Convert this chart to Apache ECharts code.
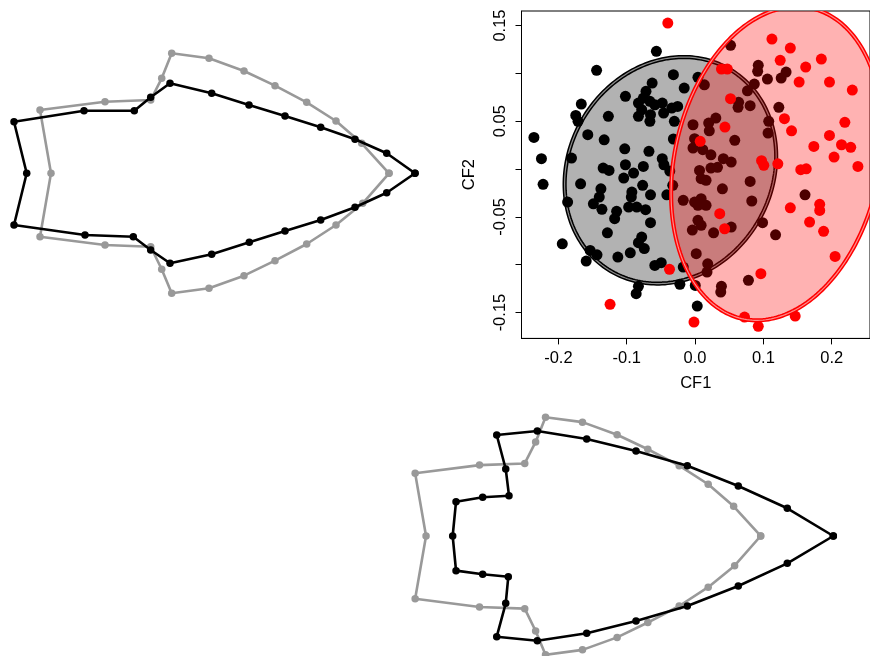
<!DOCTYPE html>
<html><head><meta charset="utf-8">
<script src="https://cdn.jsdelivr.net/npm/echarts@6/dist/echarts.min.js"></script>
<style>html,body{margin:0;padding:0;background:#fff;}#chart{width:870px;height:656px;}</style>
</head><body><div id="chart"></div>
<script>
// ---------------- DATA ----------------
// Consensus (mean) outline, 24 landmarks, shape units
const consensusX = [0.174, 0.1467, 0.121, 0.0917, 0.060, 0.029, -0.006, -0.0433, -0.0533, -0.0643, -0.110, -0.175, -0.164,
  -0.175, -0.110, -0.0643, -0.0533, -0.0433, -0.006, 0.029, 0.060, 0.0917, 0.121, 0.1477];
const consensusY = [0, 0.030, 0.0523, 0.071, 0.0876, 0.1023, 0.115, 0.120, 0.095, 0.0733, 0.0716, 0.0633, 0,
  -0.0634, -0.0717, -0.0734, -0.096, -0.120, -0.115, -0.1024, -0.0874, -0.0707, -0.0517, -0.030];
// Target shape at negative CF1 extreme (top-left panel)
const negShapeX = [0.200, 0.1717, 0.140, 0.1057, 0.070, 0.034, -0.0033, -0.045, -0.0643, -0.0807, -0.131, -0.201, -0.1883,
  -0.201, -0.130, -0.0817, -0.0643, -0.045, -0.0033, 0.0343, 0.070, 0.1057, 0.140, 0.1717];
const negShapeY = [0, 0.020, 0.034, 0.046, 0.0573, 0.0683, 0.080, 0.090, 0.076, 0.0626, 0.0626, 0.0516, 0,
  -0.0517, -0.0617, -0.0634, -0.0767, -0.090, -0.081, -0.069, -0.0577, -0.0467, -0.034, -0.0194];
// Target shape at positive CF1 extreme (bottom-right panel)
const posShapeX = [0.2474, 0.2009, 0.1514, 0.0999, 0.0481, -0.0017, -0.0516, -0.0926, -0.0835, -0.0802, -0.1068, -0.1337, -0.1371,
  -0.1337, -0.1068, -0.0809, -0.0835, -0.0926, -0.0516, -0.0017, 0.0481, 0.0999, 0.1514, 0.2009];
const posShapeY = [0, 0.028, 0.0505, 0.071, 0.0859, 0.098, 0.1061, 0.102, 0.0677, 0.0407, 0.0391, 0.0346, 0,
  -0.035, -0.0387, -0.0411, -0.068, -0.1017, -0.1058, -0.0983, -0.0859, -0.0707, -0.0505, -0.0276];

// CF scores, group 1 (black)
const group1CF1 = [-0.0566,-0.1441,-0.0317,-0.0159,-0.0628,-0.0718,-0.1019,-0.1665,-0.1746,-0.1713,-0.1269,-0.0829,-0.0757,-0.0661,-0.0589,-0.0480,-0.0341,-0.0255,-0.0781,-0.0829,
  -0.0652,-0.0661,-0.0460,-0.0303,-0.1570,-0.2358,-0.1330,-0.0317,-0.2248,-0.1808,-0.1029,-0.0675,-0.0480,-0.0456,-0.1345,-0.1259,-0.1019,-0.0900,-0.0757,-0.2224,
  -0.1675,-0.1378,-0.1402,-0.1488,-0.1363,-0.1865,-0.1044,-0.0767,-0.0925,-0.0933,-0.0652,-0.0413,-0.0972,-0.0853,-0.0724,-0.1148,-0.1177,-0.0652,-0.1283,-0.1943,
  -0.0781,-0.0829,-0.0743,-0.0948,-0.1130,-0.1535,-0.1435,-0.1593,-0.0589,-0.0495,-0.0173,-0.0829,-0.0862,-0.0222,-0.0327,-0.0370,0.0003,0.0032,0.0042,
  0.0519,0.0136,0.0925,0.0916,0.1059,0.1332,0.1260,0.0867,0.0767,0.0638,0.0629,0.0806,0.1226,0.0304,0.0199,0.0208,-0.0030,0.1078,0.1068,0.0581,
  -0.0007,-0.0030,0.0113,0.0232,0.0414,0.0529,0.0232,0.0328,0.0065,0.0089,0.0161,0.0400,0.0806,0.0830,0.1609,0.0042,-0.0007,0.0089,0.0161,0.0529,
  0.0042,0.0089,0.0271,0.0988,0.1178,0.0017,0.0185,0.0175,0.0781,0.0386,0.0376,-0.0173,-0.0040];
const group1CF2 = [0.1230,0.1032,0.0986,0.0847,0.0899,0.0812,0.0760,0.0679,0.0561,0.0499,0.0551,0.0690,0.0742,0.0708,0.0672,0.0690,0.0638,0.0655,0.0620,0.0551,
  0.0568,0.0499,0.0585,0.0499,0.0359,0.0331,0.0306,0.0314,0.0108,0.0115,0.0212,0.0185,0.0108,0.0045,0.0010,-0.0014,0.0045,-0.0042,0.0028,-0.0160,
  -0.0154,-0.0206,-0.0293,-0.0363,-0.0421,-0.0345,-0.0094,-0.0170,-0.0240,-0.0293,-0.0269,-0.0269,-0.0397,-0.0397,-0.0425,-0.0442,-0.0519,-0.0561,-0.0666,-0.0781,
  -0.0711,-0.0770,-0.0831,-0.0875,-0.0920,-0.0850,-0.0896,-0.0962,-0.1007,-0.0979,-0.1024,-0.1226,-0.1303,-0.1205,-0.0170,-0.0021,-0.1216,-0.1432,0.0959,
  0.1293,0.0881,0.1084,0.1021,0.0941,0.1014,0.0951,0.0888,0.0818,0.0697,0.0645,0.0662,0.0645,0.0533,0.0481,0.0400,0.0463,0.0499,0.0376,0.0300,
  0.0317,0.0220,0.0202,0.0149,0.0108,0.0073,0.0010,0.0018,-0.0014,-0.0101,-0.0118,-0.0206,-0.0129,-0.0334,-0.0269,-0.0379,-0.0345,-0.0310,-0.0379,-0.0606,
  -0.0536,-0.0588,-0.0666,-0.0561,-0.0687,-0.0885,-0.0990,-0.1077,-0.1163,-0.1226,-0.1286,-0.0327,-0.0638];
// CF scores, group 2 (red)
const group2CF1 = [-0.0399,0.1125,0.1394,0.1246,0.1848,0.1619,0.1523,0.1967,0.2301,0.0386,0.0472,0.0519,0.1308,0.1412,0.2192,0.1967,0.1738,0.2143,0.2278,0.2034,
  0.2383,0.0437,0.0075,0.0973,0.1006,0.1211,0.1547,0.1627,0.1824,0.1824,0.1394,0.1676,0.1881,0.2049,0.0361,0.0433,0.0963,-0.0016,0.0724,0.0925,
  0.1465,-0.0374,-0.1244];
const group2CF2 = [0.1526,0.1359,0.1265,0.1136,0.1150,0.1066,0.0909,0.0909,0.0826,0.1045,0.1045,0.0735,0.0526,0.0400,0.0488,0.0352,0.0237,0.0254,0.0227,0.0125,
  0.0028,0.0439,0.0290,0.0087,0.0039,0.0055,-0.0007,0.0003,-0.0369,-0.0432,-0.0405,-0.0554,-0.0651,-0.0913,-0.0467,-0.0624,-0.1094,-0.1599,-0.1547,-0.1644,
  -0.1537,-0.1048,-0.1414];

// Group ellipses: centre, half-extent along CF1 and CF2, and CF1-CF2 coupling
const ellipseCF1 = [-0.0361, 0.1196];
const ellipseCF2 = [-0.0013, 0.0058];
const ellipseHalfCF1 = [0.1548, 0.1547];
const ellipseHalfCF2 = [0.1184, 0.1639];
const ellipseCoupling = [0.124, 0.19];

// Axis ticks
const cf1Ticks = [-0.2, -0.1, 0, 0.1, 0.2];
const cf2Ticks = [-0.15, -0.1, -0.05, 0, 0.05, 0.1, 0.15];
const cf2TickLabels = [-0.15, -0.05, 0.05, 0.15];

// ---------------- BUILD ----------------
function zip(xs, ys) { return xs.map((x, i) => [x, ys[i]]); }
function closed(xs, ys) { const p = zip(xs, ys); p.push(p[0]); return p; }

const FONT = 'Liberation Sans, Arial, Helvetica, sans-serif';

function ellipseSeries(i, fill, stroke, z) {
  return {
    type: 'custom', xAxisIndex: 1, yAxisIndex: 1, z: z, clip: true, silent: true,
    data: [[ellipseCF1[i], ellipseCF2[i]]],
    encode: { x: 0, y: 1 },
    renderItem: function (params, api) {
      const cx = api.value(0), cy = api.value(1);
      const a = ellipseHalfCF1[i], b = ellipseHalfCF2[i], d = Math.acos(ellipseCoupling[i]);
      const pts = [];
      for (let k = 0; k < 240; k++) {
        const t = k / 240 * 2 * Math.PI;
        pts.push(api.coord([cx + a * Math.cos(t), cy + b * Math.cos(t - d)]));
      }
      return {
        type: 'group', children: [
          { type: 'polygon', shape: { points: pts }, style: { fill: fill, stroke: stroke, lineWidth: 4.2 } },
          { type: 'polygon', shape: { points: pts }, style: { fill: null, stroke: 'rgba(255,255,255,0.55)', lineWidth: 1.2 } }
        ]
      };
    }
  };
}

function outline(xs, ys, color, axisIdx, z) {
  return {
    type: 'line', xAxisIndex: axisIdx, yAxisIndex: axisIdx, data: closed(xs, ys), z: z,
    symbol: 'circle', symbolSize: 7.5, showSymbol: true, showAllSymbol: true, silent: true, clip: false,
    lineStyle: { color: color, width: 2.6 }, itemStyle: { color: color }
  };
}

const hiddenX = (min, max, gi) => ({ type: 'value', gridIndex: gi, min: min, max: max, show: false, splitLine: { show: false } });

const chart = echarts.init(document.getElementById('chart'), null, { renderer: 'canvas' });
chart.setOption({
  animation: false,
  backgroundColor: '#ffffff',
  grid: [
    { left: 0, top: 0, width: 430, height: 346.6 },
    { left: 521.5, top: 11, width: 355.7, height: 327.4, show: true, borderColor: '#000', borderWidth: 1, backgroundColor: 'transparent' },
    { left: 400, top: 400, width: 470, height: 256 }
  ],
  xAxis: [
    hiddenX(-0.215, 0.215, 0),
    {
      type: 'value', gridIndex: 1, min: -0.254, max: 0.256, position: 'bottom',
      name: 'CF1', nameLocation: 'middle', nameGap: 37,
      nameTextStyle: { fontFamily: FONT, fontSize: 16.5, color: '#000' },
      axisLine: { show: true, onZero: false, lineStyle: { color: '#000', width: 1 } },
      axisTick: { show: true, length: 6, customValues: cf1Ticks, lineStyle: { color: '#000', width: 1 } },
      axisLabel: { show: true, customValues: cf1Ticks, margin: 12, fontFamily: FONT, fontSize: 16.5, color: '#000',
        formatter: v => v.toFixed(1) },
      splitLine: { show: false }
    },
    hiddenX(-0.1903, 0.28444, 2)
  ],
  yAxis: [
    hiddenX(-0.1733, 0.1733, 0),
    {
      type: 'value', gridIndex: 1, min: -0.177, max: 0.1652, position: 'left',
      name: 'CF2', nameLocation: 'middle', nameGap: 44, nameRotate: 90,
      nameTextStyle: { fontFamily: FONT, fontSize: 16.5, color: '#000' },
      axisLine: { show: true, onZero: false, lineStyle: { color: '#000', width: 1 } },
      axisTick: { show: true, length: 6, customValues: cf2Ticks, lineStyle: { color: '#000', width: 1 } },
      axisLabel: { show: true, customValues: cf2TickLabels, rotate: 90, margin: 13, fontFamily: FONT, fontSize: 16.5, color: '#000',
        formatter: v => v.toFixed(2) },
      splitLine: { show: false }
    },
    hiddenX(-0.12121, 0.13737, 2)
  ],
  series: [
    outline(consensusX, consensusY, '#999999', 0, 2),
    outline(negShapeX, negShapeY, '#000000', 0, 3),
    ellipseSeries(0, 'rgba(0,0,0,0.3)', '#000000', 1),
    {
      type: 'scatter', xAxisIndex: 1, yAxisIndex: 1, z: 2, silent: true,
      data: zip(group1CF1, group1CF2), symbol: 'circle', symbolSize: 11,
      itemStyle: { color: '#000000', opacity: 1 }
    },
    {
      type: 'scatter', xAxisIndex: 1, yAxisIndex: 1, z: 2, silent: true,
      data: zip(group2CF1, group2CF2), symbol: 'circle', symbolSize: 11,
      itemStyle: { color: '#ff0000', opacity: 1 }
    },
    ellipseSeries(1, 'rgba(255,0,0,0.3)', '#ff0000', 3),
    outline(consensusX, consensusY, '#999999', 2, 2),
    outline(posShapeX, posShapeY, '#000000', 2, 3)
  ]
});
</script>
</body></html>
